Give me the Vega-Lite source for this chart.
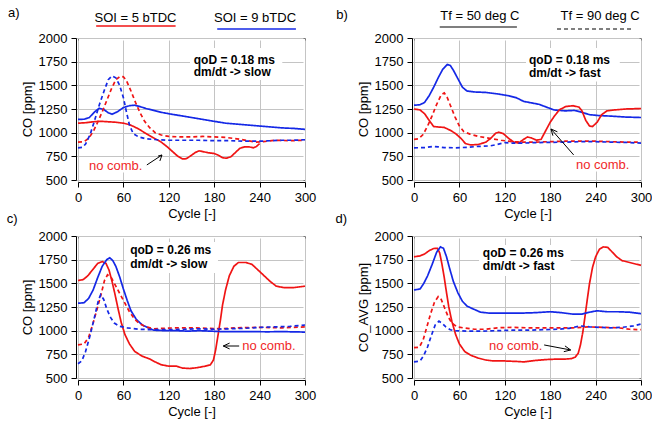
{
  "$schema": "https://vega.github.io/schema/vega-lite/v6.json",
  "padding": {"left": 6, "top": 6, "right": 5, "bottom": 5},
  "background": "white",
  "config": {
    "font": "Liberation Sans",
    "view": {"stroke": "#7a7a7a", "strokeWidth": 1},
    "axis": {"domainColor": "black", "tickColor": "black", "gridColor": "#c4c4c4", "labelFont": "Liberation Sans", "labelFontSize": 13, "labelColor": "black", "titleFont": "Liberation Sans", "titleFontSize": 13, "titleFontWeight": "normal", "titleColor": "black", "labelFlush": false, "tickSize": 5, "grid": true, "format": "d"},
    "axisX": {"offset": 2, "labelPadding": 4, "titlePadding": 3},
    "axisY": {"offset": 2, "labelPadding": 4, "titlePadding": 4},
    "text": {"font": "Liberation Sans"}
  },
  "datasets": {
    "a": [
      {"c":0,"v":1100,"s":"5","t":"50"},{"c":10,"v":1105,"s":"5","t":"50"},{"c":20,"v":1115,"s":"5","t":"50"},{"c":30,"v":1120,"s":"5","t":"50"},{"c":40,"v":1115,"s":"5","t":"50"},{"c":50,"v":1110,"s":"5","t":"50"},{"c":60,"v":1100,"s":"5","t":"50"},{"c":68,"v":1085,"s":"5","t":"50"},{"c":75,"v":1060,"s":"5","t":"50"},{"c":82,"v":1030,"s":"5","t":"50"},{"c":90,"v":990,"s":"5","t":"50"},{"c":100,"v":945,"s":"5","t":"50"},{"c":110,"v":900,"s":"5","t":"50"},{"c":118,"v":850,"s":"5","t":"50"},{"c":125,"v":800,"s":"5","t":"50"},{"c":132,"v":750,"s":"5","t":"50"},{"c":138,"v":722,"s":"5","t":"50"},{"c":143,"v":725,"s":"5","t":"50"},{"c":148,"v":750,"s":"5","t":"50"},{"c":155,"v":790,"s":"5","t":"50"},{"c":160,"v":808,"s":"5","t":"50"},{"c":165,"v":800,"s":"5","t":"50"},{"c":172,"v":788,"s":"5","t":"50"},{"c":180,"v":780,"s":"5","t":"50"},{"c":186,"v":760,"s":"5","t":"50"},{"c":191,"v":735,"s":"5","t":"50"},{"c":196,"v":730,"s":"5","t":"50"},{"c":202,"v":745,"s":"5","t":"50"},{"c":208,"v":790,"s":"5","t":"50"},{"c":214,"v":835,"s":"5","t":"50"},{"c":220,"v":850,"s":"5","t":"50"},{"c":226,"v":850,"s":"5","t":"50"},{"c":232,"v":840,"s":"5","t":"50"},{"c":236,"v":855,"s":"5","t":"50"},{"c":240,"v":885,"s":"5","t":"50"},
      {"c":0,"v":1140,"s":"9","t":"50"},{"c":8,"v":1142,"s":"9","t":"50"},{"c":15,"v":1160,"s":"9","t":"50"},{"c":22,"v":1220,"s":"9","t":"50"},{"c":28,"v":1258,"s":"9","t":"50"},{"c":34,"v":1245,"s":"9","t":"50"},{"c":40,"v":1210,"s":"9","t":"50"},{"c":45,"v":1195,"s":"9","t":"50"},{"c":52,"v":1220,"s":"9","t":"50"},{"c":60,"v":1265,"s":"9","t":"50"},{"c":68,"v":1285,"s":"9","t":"50"},{"c":75,"v":1290,"s":"9","t":"50"},{"c":82,"v":1275,"s":"9","t":"50"},{"c":90,"v":1255,"s":"9","t":"50"},{"c":100,"v":1235,"s":"9","t":"50"},{"c":110,"v":1215,"s":"9","t":"50"},{"c":120,"v":1200,"s":"9","t":"50"},{"c":135,"v":1180,"s":"9","t":"50"},{"c":150,"v":1160,"s":"9","t":"50"},{"c":165,"v":1140,"s":"9","t":"50"},{"c":180,"v":1120,"s":"9","t":"50"},{"c":195,"v":1100,"s":"9","t":"50"},{"c":210,"v":1090,"s":"9","t":"50"},{"c":225,"v":1080,"s":"9","t":"50"},{"c":240,"v":1070,"s":"9","t":"50"},{"c":255,"v":1060,"s":"9","t":"50"},{"c":270,"v":1050,"s":"9","t":"50"},{"c":285,"v":1045,"s":"9","t":"50"},{"c":300,"v":1035,"s":"9","t":"50"},
      {"c":0,"v":900,"s":"5","t":"90"},{"c":8,"v":905,"s":"5","t":"90"},{"c":14,"v":940,"s":"5","t":"90"},{"c":20,"v":1010,"s":"5","t":"90"},{"c":26,"v":1110,"s":"5","t":"90"},{"c":32,"v":1220,"s":"5","t":"90"},{"c":38,"v":1340,"s":"5","t":"90"},{"c":44,"v":1460,"s":"5","t":"90"},{"c":50,"v":1560,"s":"5","t":"90"},{"c":56,"v":1595,"s":"5","t":"90"},{"c":60,"v":1590,"s":"5","t":"90"},{"c":64,"v":1550,"s":"5","t":"90"},{"c":70,"v":1440,"s":"5","t":"90"},{"c":76,"v":1320,"s":"5","t":"90"},{"c":82,"v":1210,"s":"5","t":"90"},{"c":88,"v":1120,"s":"5","t":"90"},{"c":95,"v":1050,"s":"5","t":"90"},{"c":102,"v":1000,"s":"5","t":"90"},{"c":110,"v":975,"s":"5","t":"90"},{"c":120,"v":960,"s":"5","t":"90"},{"c":135,"v":955,"s":"5","t":"90"},{"c":150,"v":955,"s":"5","t":"90"},{"c":165,"v":960,"s":"5","t":"90"},{"c":180,"v":955,"s":"5","t":"90"},{"c":195,"v":950,"s":"5","t":"90"},{"c":210,"v":935,"s":"5","t":"90"},{"c":225,"v":915,"s":"5","t":"90"},{"c":235,"v":900,"s":"5","t":"90"},{"c":245,"v":905,"s":"5","t":"90"},{"c":260,"v":920,"s":"5","t":"90"},{"c":280,"v":915,"s":"5","t":"90"},{"c":300,"v":920,"s":"5","t":"90"},
      {"c":0,"v":840,"s":"9","t":"90"},{"c":6,"v":845,"s":"9","t":"90"},{"c":10,"v":880,"s":"9","t":"90"},{"c":16,"v":980,"s":"9","t":"90"},{"c":22,"v":1130,"s":"9","t":"90"},{"c":28,"v":1290,"s":"9","t":"90"},{"c":34,"v":1430,"s":"9","t":"90"},{"c":40,"v":1560,"s":"9","t":"90"},{"c":45,"v":1600,"s":"9","t":"90"},{"c":50,"v":1580,"s":"9","t":"90"},{"c":55,"v":1500,"s":"9","t":"90"},{"c":60,"v":1370,"s":"9","t":"90"},{"c":64,"v":1220,"s":"9","t":"90"},{"c":68,"v":1080,"s":"9","t":"90"},{"c":73,"v":990,"s":"9","t":"90"},{"c":80,"v":955,"s":"9","t":"90"},{"c":90,"v":935,"s":"9","t":"90"},{"c":105,"v":925,"s":"9","t":"90"},{"c":120,"v":920,"s":"9","t":"90"},{"c":140,"v":920,"s":"9","t":"90"},{"c":160,"v":920,"s":"9","t":"90"},{"c":180,"v":915,"s":"9","t":"90"},{"c":200,"v":915,"s":"9","t":"90"},{"c":220,"v":910,"s":"9","t":"90"},{"c":240,"v":910,"s":"9","t":"90"},{"c":255,"v":915,"s":"9","t":"90"},{"c":270,"v":920,"s":"9","t":"90"},{"c":285,"v":920,"s":"9","t":"90"},{"c":300,"v":925,"s":"9","t":"90"}
    ],
    "b": [
      {"c":0,"v":1290,"s":"9","t":"50"},{"c":8,"v":1295,"s":"9","t":"50"},{"c":14,"v":1320,"s":"9","t":"50"},{"c":20,"v":1390,"s":"9","t":"50"},{"c":26,"v":1480,"s":"9","t":"50"},{"c":32,"v":1580,"s":"9","t":"50"},{"c":38,"v":1670,"s":"9","t":"50"},{"c":44,"v":1720,"s":"9","t":"50"},{"c":48,"v":1710,"s":"9","t":"50"},{"c":52,"v":1660,"s":"9","t":"50"},{"c":58,"v":1570,"s":"9","t":"50"},{"c":64,"v":1480,"s":"9","t":"50"},{"c":70,"v":1440,"s":"9","t":"50"},{"c":80,"v":1430,"s":"9","t":"50"},{"c":95,"v":1425,"s":"9","t":"50"},{"c":110,"v":1410,"s":"9","t":"50"},{"c":125,"v":1390,"s":"9","t":"50"},{"c":135,"v":1370,"s":"9","t":"50"},{"c":145,"v":1330,"s":"9","t":"50"},{"c":155,"v":1315,"s":"9","t":"50"},{"c":165,"v":1300,"s":"9","t":"50"},{"c":175,"v":1270,"s":"9","t":"50"},{"c":185,"v":1240,"s":"9","t":"50"},{"c":200,"v":1230,"s":"9","t":"50"},{"c":212,"v":1235,"s":"9","t":"50"},{"c":222,"v":1215,"s":"9","t":"50"},{"c":232,"v":1190,"s":"9","t":"50"},{"c":245,"v":1180,"s":"9","t":"50"},{"c":260,"v":1175,"s":"9","t":"50"},{"c":280,"v":1165,"s":"9","t":"50"},{"c":300,"v":1160,"s":"9","t":"50"},
      {"c":0,"v":1250,"s":"5","t":"50"},{"c":8,"v":1240,"s":"5","t":"50"},{"c":14,"v":1200,"s":"5","t":"50"},{"c":20,"v":1130,"s":"5","t":"50"},{"c":26,"v":1065,"s":"5","t":"50"},{"c":32,"v":1060,"s":"5","t":"50"},{"c":40,"v":1055,"s":"5","t":"50"},{"c":48,"v":1025,"s":"5","t":"50"},{"c":55,"v":990,"s":"5","t":"50"},{"c":62,"v":940,"s":"5","t":"50"},{"c":68,"v":885,"s":"5","t":"50"},{"c":75,"v":870,"s":"5","t":"50"},{"c":85,"v":875,"s":"5","t":"50"},{"c":95,"v":900,"s":"5","t":"50"},{"c":102,"v":945,"s":"5","t":"50"},{"c":108,"v":995,"s":"5","t":"50"},{"c":112,"v":1005,"s":"5","t":"50"},{"c":118,"v":990,"s":"5","t":"50"},{"c":125,"v":940,"s":"5","t":"50"},{"c":132,"v":900,"s":"5","t":"50"},{"c":138,"v":890,"s":"5","t":"50"},{"c":145,"v":930,"s":"5","t":"50"},{"c":150,"v":955,"s":"5","t":"50"},{"c":155,"v":945,"s":"5","t":"50"},{"c":162,"v":920,"s":"5","t":"50"},{"c":168,"v":930,"s":"5","t":"50"},{"c":174,"v":1020,"s":"5","t":"50"},{"c":180,"v":1110,"s":"5","t":"50"},{"c":186,"v":1180,"s":"5","t":"50"},{"c":192,"v":1240,"s":"5","t":"50"},{"c":200,"v":1275,"s":"5","t":"50"},{"c":210,"v":1285,"s":"5","t":"50"},{"c":218,"v":1270,"s":"5","t":"50"},{"c":222,"v":1230,"s":"5","t":"50"},{"c":227,"v":1130,"s":"5","t":"50"},{"c":232,"v":1070,"s":"5","t":"50"},{"c":236,"v":1065,"s":"5","t":"50"},{"c":242,"v":1110,"s":"5","t":"50"},{"c":248,"v":1190,"s":"5","t":"50"},{"c":255,"v":1230,"s":"5","t":"50"},{"c":265,"v":1240,"s":"5","t":"50"},{"c":280,"v":1250,"s":"5","t":"50"},{"c":300,"v":1255,"s":"5","t":"50"},
      {"c":0,"v":930,"s":"5","t":"90"},{"c":6,"v":935,"s":"5","t":"90"},{"c":12,"v":980,"s":"5","t":"90"},{"c":18,"v":1070,"s":"5","t":"90"},{"c":24,"v":1180,"s":"5","t":"90"},{"c":30,"v":1300,"s":"5","t":"90"},{"c":36,"v":1400,"s":"5","t":"90"},{"c":40,"v":1420,"s":"5","t":"90"},{"c":44,"v":1370,"s":"5","t":"90"},{"c":48,"v":1290,"s":"5","t":"90"},{"c":54,"v":1170,"s":"5","t":"90"},{"c":60,"v":1070,"s":"5","t":"90"},{"c":66,"v":1010,"s":"5","t":"90"},{"c":74,"v":985,"s":"5","t":"90"},{"c":85,"v":960,"s":"5","t":"90"},{"c":100,"v":940,"s":"5","t":"90"},{"c":115,"v":920,"s":"5","t":"90"},{"c":130,"v":905,"s":"5","t":"90"},{"c":145,"v":900,"s":"5","t":"90"},{"c":160,"v":900,"s":"5","t":"90"},{"c":180,"v":905,"s":"5","t":"90"},{"c":200,"v":910,"s":"5","t":"90"},{"c":220,"v":910,"s":"5","t":"90"},{"c":240,"v":910,"s":"5","t":"90"},{"c":260,"v":905,"s":"5","t":"90"},{"c":280,"v":900,"s":"5","t":"90"},{"c":300,"v":900,"s":"5","t":"90"},
      {"c":0,"v":840,"s":"9","t":"90"},{"c":15,"v":842,"s":"9","t":"90"},{"c":25,"v":855,"s":"9","t":"90"},{"c":32,"v":850,"s":"9","t":"90"},{"c":40,"v":842,"s":"9","t":"90"},{"c":55,"v":840,"s":"9","t":"90"},{"c":70,"v":845,"s":"9","t":"90"},{"c":85,"v":855,"s":"9","t":"90"},{"c":100,"v":860,"s":"9","t":"90"},{"c":110,"v":875,"s":"9","t":"90"},{"c":120,"v":895,"s":"9","t":"90"},{"c":130,"v":890,"s":"9","t":"90"},{"c":145,"v":890,"s":"9","t":"90"},{"c":160,"v":895,"s":"9","t":"90"},{"c":180,"v":898,"s":"9","t":"90"},{"c":200,"v":900,"s":"9","t":"90"},{"c":220,"v":905,"s":"9","t":"90"},{"c":240,"v":905,"s":"9","t":"90"},{"c":260,"v":900,"s":"9","t":"90"},{"c":280,"v":897,"s":"9","t":"90"},{"c":300,"v":890,"s":"9","t":"90"}
    ],
    "c": [
      {"c":0,"v":1530,"s":"5","t":"50"},{"c":7,"v":1540,"s":"5","t":"50"},{"c":13,"v":1580,"s":"5","t":"50"},{"c":20,"v":1650,"s":"5","t":"50"},{"c":26,"v":1710,"s":"5","t":"50"},{"c":32,"v":1730,"s":"5","t":"50"},{"c":37,"v":1710,"s":"5","t":"50"},{"c":41,"v":1640,"s":"5","t":"50"},{"c":45,"v":1520,"s":"5","t":"50"},{"c":49,"v":1380,"s":"5","t":"50"},{"c":53,"v":1230,"s":"5","t":"50"},{"c":57,"v":1090,"s":"5","t":"50"},{"c":62,"v":960,"s":"5","t":"50"},{"c":68,"v":860,"s":"5","t":"50"},{"c":75,"v":780,"s":"5","t":"50"},{"c":85,"v":730,"s":"5","t":"50"},{"c":95,"v":700,"s":"5","t":"50"},{"c":102,"v":670,"s":"5","t":"50"},{"c":110,"v":640,"s":"5","t":"50"},{"c":120,"v":625,"s":"5","t":"50"},{"c":130,"v":625,"s":"5","t":"50"},{"c":138,"v":605,"s":"5","t":"50"},{"c":148,"v":600,"s":"5","t":"50"},{"c":158,"v":610,"s":"5","t":"50"},{"c":168,"v":625,"s":"5","t":"50"},{"c":175,"v":640,"s":"5","t":"50"},{"c":179,"v":690,"s":"5","t":"50"},{"c":182,"v":800,"s":"5","t":"50"},{"c":185,"v":950,"s":"5","t":"50"},{"c":188,"v":1100,"s":"5","t":"50"},{"c":191,"v":1270,"s":"5","t":"50"},{"c":195,"v":1430,"s":"5","t":"50"},{"c":200,"v":1580,"s":"5","t":"50"},{"c":206,"v":1680,"s":"5","t":"50"},{"c":212,"v":1720,"s":"5","t":"50"},{"c":222,"v":1720,"s":"5","t":"50"},{"c":230,"v":1700,"s":"5","t":"50"},{"c":238,"v":1640,"s":"5","t":"50"},{"c":246,"v":1580,"s":"5","t":"50"},{"c":254,"v":1520,"s":"5","t":"50"},{"c":262,"v":1470,"s":"5","t":"50"},{"c":272,"v":1455,"s":"5","t":"50"},{"c":285,"v":1455,"s":"5","t":"50"},{"c":300,"v":1470,"s":"5","t":"50"},
      {"c":0,"v":1290,"s":"9","t":"50"},{"c":8,"v":1295,"s":"9","t":"50"},{"c":14,"v":1340,"s":"9","t":"50"},{"c":20,"v":1430,"s":"9","t":"50"},{"c":26,"v":1560,"s":"9","t":"50"},{"c":32,"v":1680,"s":"9","t":"50"},{"c":38,"v":1750,"s":"9","t":"50"},{"c":42,"v":1770,"s":"9","t":"50"},{"c":46,"v":1740,"s":"9","t":"50"},{"c":50,"v":1680,"s":"9","t":"50"},{"c":55,"v":1570,"s":"9","t":"50"},{"c":60,"v":1440,"s":"9","t":"50"},{"c":65,"v":1320,"s":"9","t":"50"},{"c":70,"v":1210,"s":"9","t":"50"},{"c":77,"v":1120,"s":"9","t":"50"},{"c":85,"v":1060,"s":"9","t":"50"},{"c":93,"v":1030,"s":"9","t":"50"},{"c":100,"v":1005,"s":"9","t":"50"},{"c":115,"v":1000,"s":"9","t":"50"},{"c":130,"v":1000,"s":"9","t":"50"},{"c":145,"v":995,"s":"9","t":"50"},{"c":160,"v":1000,"s":"9","t":"50"},{"c":175,"v":995,"s":"9","t":"50"},{"c":190,"v":990,"s":"9","t":"50"},{"c":210,"v":990,"s":"9","t":"50"},{"c":230,"v":990,"s":"9","t":"50"},{"c":250,"v":988,"s":"9","t":"50"},{"c":270,"v":990,"s":"9","t":"50"},{"c":300,"v":985,"s":"9","t":"50"},
      {"c":0,"v":850,"s":"5","t":"90"},{"c":8,"v":860,"s":"5","t":"90"},{"c":14,"v":930,"s":"5","t":"90"},{"c":20,"v":1080,"s":"5","t":"90"},{"c":26,"v":1250,"s":"5","t":"90"},{"c":31,"v":1400,"s":"5","t":"90"},{"c":35,"v":1530,"s":"5","t":"90"},{"c":39,"v":1590,"s":"5","t":"90"},{"c":44,"v":1560,"s":"5","t":"90"},{"c":50,"v":1470,"s":"5","t":"90"},{"c":56,"v":1380,"s":"5","t":"90"},{"c":62,"v":1290,"s":"5","t":"90"},{"c":68,"v":1200,"s":"5","t":"90"},{"c":75,"v":1120,"s":"5","t":"90"},{"c":82,"v":1070,"s":"5","t":"90"},{"c":90,"v":1040,"s":"5","t":"90"},{"c":100,"v":1020,"s":"5","t":"90"},{"c":115,"v":1025,"s":"5","t":"90"},{"c":130,"v":1030,"s":"5","t":"90"},{"c":150,"v":1030,"s":"5","t":"90"},{"c":170,"v":1025,"s":"5","t":"90"},{"c":190,"v":1020,"s":"5","t":"90"},{"c":210,"v":1030,"s":"5","t":"90"},{"c":240,"v":1035,"s":"5","t":"90"},{"c":270,"v":1030,"s":"5","t":"90"},{"c":300,"v":1040,"s":"5","t":"90"},
      {"c":0,"v":650,"s":"9","t":"90"},{"c":5,"v":680,"s":"9","t":"90"},{"c":10,"v":780,"s":"9","t":"90"},{"c":16,"v":950,"s":"9","t":"90"},{"c":22,"v":1150,"s":"9","t":"90"},{"c":27,"v":1320,"s":"9","t":"90"},{"c":30,"v":1380,"s":"9","t":"90"},{"c":34,"v":1330,"s":"9","t":"90"},{"c":38,"v":1230,"s":"9","t":"90"},{"c":43,"v":1140,"s":"9","t":"90"},{"c":48,"v":1080,"s":"9","t":"90"},{"c":55,"v":1045,"s":"9","t":"90"},{"c":65,"v":1030,"s":"9","t":"90"},{"c":80,"v":1015,"s":"9","t":"90"},{"c":100,"v":1010,"s":"9","t":"90"},{"c":120,"v":1010,"s":"9","t":"90"},{"c":140,"v":1015,"s":"9","t":"90"},{"c":160,"v":1020,"s":"9","t":"90"},{"c":180,"v":1015,"s":"9","t":"90"},{"c":200,"v":1020,"s":"9","t":"90"},{"c":220,"v":1025,"s":"9","t":"90"},{"c":240,"v":1035,"s":"9","t":"90"},{"c":260,"v":1040,"s":"9","t":"90"},{"c":280,"v":1045,"s":"9","t":"90"},{"c":300,"v":1060,"s":"9","t":"90"}
    ],
    "d": [
      {"c":0,"v":1780,"s":"5","t":"50"},{"c":8,"v":1790,"s":"5","t":"50"},{"c":14,"v":1810,"s":"5","t":"50"},{"c":20,"v":1845,"s":"5","t":"50"},{"c":26,"v":1868,"s":"5","t":"50"},{"c":31,"v":1870,"s":"5","t":"50"},{"c":34,"v":1820,"s":"5","t":"50"},{"c":37,"v":1700,"s":"5","t":"50"},{"c":40,"v":1560,"s":"5","t":"50"},{"c":43,"v":1400,"s":"5","t":"50"},{"c":46,"v":1250,"s":"5","t":"50"},{"c":50,"v":1100,"s":"5","t":"50"},{"c":55,"v":960,"s":"5","t":"50"},{"c":60,"v":860,"s":"5","t":"50"},{"c":67,"v":780,"s":"5","t":"50"},{"c":75,"v":740,"s":"5","t":"50"},{"c":85,"v":710,"s":"5","t":"50"},{"c":95,"v":690,"s":"5","t":"50"},{"c":105,"v":680,"s":"5","t":"50"},{"c":120,"v":680,"s":"5","t":"50"},{"c":135,"v":675,"s":"5","t":"50"},{"c":145,"v":670,"s":"5","t":"50"},{"c":160,"v":685,"s":"5","t":"50"},{"c":175,"v":695,"s":"5","t":"50"},{"c":190,"v":700,"s":"5","t":"50"},{"c":200,"v":700,"s":"5","t":"50"},{"c":208,"v":705,"s":"5","t":"50"},{"c":213,"v":720,"s":"5","t":"50"},{"c":217,"v":760,"s":"5","t":"50"},{"c":220,"v":850,"s":"5","t":"50"},{"c":223,"v":980,"s":"5","t":"50"},{"c":226,"v":1150,"s":"5","t":"50"},{"c":229,"v":1330,"s":"5","t":"50"},{"c":232,"v":1500,"s":"5","t":"50"},{"c":236,"v":1670,"s":"5","t":"50"},{"c":240,"v":1780,"s":"5","t":"50"},{"c":245,"v":1860,"s":"5","t":"50"},{"c":250,"v":1885,"s":"5","t":"50"},{"c":256,"v":1880,"s":"5","t":"50"},{"c":262,"v":1830,"s":"5","t":"50"},{"c":268,"v":1780,"s":"5","t":"50"},{"c":275,"v":1740,"s":"5","t":"50"},{"c":285,"v":1720,"s":"5","t":"50"},{"c":300,"v":1690,"s":"5","t":"50"},
      {"c":0,"v":1430,"s":"9","t":"50"},{"c":8,"v":1440,"s":"9","t":"50"},{"c":13,"v":1500,"s":"9","t":"50"},{"c":18,"v":1580,"s":"9","t":"50"},{"c":24,"v":1700,"s":"9","t":"50"},{"c":30,"v":1830,"s":"9","t":"50"},{"c":35,"v":1885,"s":"9","t":"50"},{"c":39,"v":1870,"s":"9","t":"50"},{"c":43,"v":1780,"s":"9","t":"50"},{"c":47,"v":1660,"s":"9","t":"50"},{"c":52,"v":1520,"s":"9","t":"50"},{"c":58,"v":1400,"s":"9","t":"50"},{"c":64,"v":1310,"s":"9","t":"50"},{"c":70,"v":1260,"s":"9","t":"50"},{"c":78,"v":1230,"s":"9","t":"50"},{"c":88,"v":1195,"s":"9","t":"50"},{"c":100,"v":1185,"s":"9","t":"50"},{"c":120,"v":1185,"s":"9","t":"50"},{"c":140,"v":1185,"s":"9","t":"50"},{"c":160,"v":1190,"s":"9","t":"50"},{"c":180,"v":1200,"s":"9","t":"50"},{"c":195,"v":1190,"s":"9","t":"50"},{"c":210,"v":1175,"s":"9","t":"50"},{"c":222,"v":1175,"s":"9","t":"50"},{"c":232,"v":1195,"s":"9","t":"50"},{"c":242,"v":1210,"s":"9","t":"50"},{"c":255,"v":1200,"s":"9","t":"50"},{"c":270,"v":1200,"s":"9","t":"50"},{"c":285,"v":1195,"s":"9","t":"50"},{"c":300,"v":1180,"s":"9","t":"50"},
      {"c":0,"v":820,"s":"5","t":"90"},{"c":7,"v":825,"s":"5","t":"90"},{"c":12,"v":900,"s":"5","t":"90"},{"c":17,"v":1040,"s":"5","t":"90"},{"c":22,"v":1180,"s":"5","t":"90"},{"c":27,"v":1300,"s":"5","t":"90"},{"c":32,"v":1360,"s":"5","t":"90"},{"c":36,"v":1330,"s":"5","t":"90"},{"c":40,"v":1250,"s":"5","t":"90"},{"c":45,"v":1150,"s":"5","t":"90"},{"c":50,"v":1080,"s":"5","t":"90"},{"c":57,"v":1040,"s":"5","t":"90"},{"c":65,"v":1030,"s":"5","t":"90"},{"c":80,"v":1015,"s":"5","t":"90"},{"c":95,"v":1015,"s":"5","t":"90"},{"c":110,"v":1030,"s":"5","t":"90"},{"c":130,"v":1035,"s":"5","t":"90"},{"c":150,"v":1030,"s":"5","t":"90"},{"c":170,"v":1030,"s":"5","t":"90"},{"c":190,"v":1030,"s":"5","t":"90"},{"c":210,"v":1030,"s":"5","t":"90"},{"c":230,"v":1040,"s":"5","t":"90"},{"c":250,"v":1035,"s":"5","t":"90"},{"c":270,"v":1030,"s":"5","t":"90"},{"c":285,"v":1015,"s":"5","t":"90"},{"c":300,"v":1010,"s":"5","t":"90"},
      {"c":0,"v":670,"s":"9","t":"90"},{"c":8,"v":680,"s":"9","t":"90"},{"c":13,"v":740,"s":"9","t":"90"},{"c":18,"v":830,"s":"9","t":"90"},{"c":23,"v":950,"s":"9","t":"90"},{"c":28,"v":1060,"s":"9","t":"90"},{"c":33,"v":1100,"s":"9","t":"90"},{"c":37,"v":1080,"s":"9","t":"90"},{"c":42,"v":1040,"s":"9","t":"90"},{"c":48,"v":1010,"s":"9","t":"90"},{"c":55,"v":1000,"s":"9","t":"90"},{"c":70,"v":995,"s":"9","t":"90"},{"c":90,"v":995,"s":"9","t":"90"},{"c":110,"v":1000,"s":"9","t":"90"},{"c":130,"v":1005,"s":"9","t":"90"},{"c":150,"v":1005,"s":"9","t":"90"},{"c":170,"v":1010,"s":"9","t":"90"},{"c":190,"v":1015,"s":"9","t":"90"},{"c":205,"v":1025,"s":"9","t":"90"},{"c":220,"v":1050,"s":"9","t":"90"},{"c":232,"v":1040,"s":"9","t":"90"},{"c":245,"v":1035,"s":"9","t":"90"},{"c":260,"v":1030,"s":"9","t":"90"},{"c":275,"v":1035,"s":"9","t":"90"},{"c":290,"v":1050,"s":"9","t":"90"},{"c":300,"v":1070,"s":"9","t":"90"}
    ],
    "box": [
      {"p":"a","c":148,"c2":270,"v":1894,"v2":1556},{"p":"a","c":12,"c2":86,"v":580,"v2":720},
      {"p":"b","c":148,"c2":272,"v":1894,"v2":1540},{"p":"b","c":211,"c2":285,"v":590,"v2":730},
      {"p":"c","c":63,"c2":185,"v":1937,"v2":1609},{"p":"c","c":215,"c2":287,"v":770,"v2":905},
      {"p":"d","c":86,"c2":207,"v":1905,"v2":1578},{"p":"d","c":97,"c2":167,"v":770,"v2":905}
    ],
    "arr": [
      {"p":"a","c":91,"v":659,"c2":111,"v2":764},{"p":"a","c":111,"v":764,"c2":105.8,"v2":753},{"p":"a","c":111,"v":764,"c2":108.2,"v2":701},
      {"p":"b","c":211,"v":765,"c2":181,"v2":1039},{"p":"b","c":181,"v":1039,"c2":189.5,"v2":1009},{"p":"b","c":181,"v":1039,"c2":183.6,"v2":968},
      {"p":"c","c":213,"v":838,"c2":192,"v2":838},{"p":"c","c":192,"v":838,"c2":200.4,"v2":869},{"p":"c","c":192,"v":838,"c2":200.4,"v2":807},
      {"p":"d","c":172,"v":849,"c2":207,"v2":796},{"p":"d","c":207,"v":796,"c2":199.5,"v2":839},{"p":"d","c":207,"v":796,"c2":198,"v2":778}
    ],
    "note": [
      {"p":"a","c":153,"v":1772,"text":"qoD = 0.18 ms"},{"p":"a","c":153,"v":1646,"text":"dm/dt -> slow"},
      {"p":"b","c":152,"v":1772,"text":"qoD = 0.18 ms"},{"p":"b","c":152,"v":1630,"text":"dm/dt -> fast"},
      {"p":"c","c":69,"v":1852,"text":"qoD = 0.26 ms"},{"p":"c","c":69,"v":1704,"text":"dm/dt -> slow"},
      {"p":"d","c":91,"v":1820,"text":"qoD = 0.26 ms"},{"p":"d","c":91,"v":1683,"text":"dm/dt -> fast"}
    ],
    "nc": [
      {"p":"a","c":14.5,"v":648,"text":"no comb."},
      {"p":"b","c":214,"v":659,"text":"no comb."},
      {"p":"c","c":217,"v":838,"text":"no comb."},
      {"p":"d","c":99,"v":838,"text":"no comb."}
    ],
    "lbl": [
      {"p":"a","c":76,"v":2211,"text":"SOI = 5 bTDC"},{"p":"a","c":234,"v":2211,"text":"SOI = 9 bTDC"},{"p":"a","c":-85,"v":2264,"text":"a)"},
      {"p":"b","c":87,"v":2232,"text":"Tf = 50 deg C"},{"p":"b","c":246,"v":2232,"text":"Tf = 90 deg C"},{"p":"b","c":-95,"v":2243,"text":"b)"},
      {"p":"c","c":-87,"v":2180,"text":"c)"},
      {"p":"d","c":-96,"v":2180,"text":"d)"}
    ],
    "legs": [
      {"p":"a","c":24,"c2":129,"v":2127,"s":"5"},{"p":"a","c":184,"c2":288,"v":2095,"s":"9"}
    ],
    "legt": [
      {"p":"b","c":34,"c2":136,"v":2116,"t":"50"},{"p":"b","c":189,"c2":289,"v":2095,"t":"90"}
    ]
  },
  "columns": 2,
  "spacing": {"row": 56, "column": 109},
  "bounds": "flush",
  "concat": [
    {
      "width": 227, "height": 142,
      "encoding": {
        "x": {"field": "c", "type": "quantitative", "scale": {"domain": [0, 300], "nice": false, "zero": false}, "axis": {"values": [0, 60, 120, 180, 240, 300], "title": "Cycle [-]"}},
        "y": {"field": "v", "type": "quantitative", "scale": {"domain": [500, 2000], "nice": false, "zero": false}, "axis": {"values": [500, 750, 1000, 1250, 1500, 1750, 2000], "title": "CO [ppm]"}}
      },
      "layer": [
        {"data": {"name": "box"}, "transform": [{"filter": "datum.p == 'a'"}], "mark": {"type": "rect", "color": "white"}, "encoding": {"x2": {"field": "c2"}, "y2": {"field": "v2"}}},
        {"data": {"name": "a"}, "mark": {"type": "line", "strokeWidth": 1.7}, "encoding": {"color": {"field": "s", "type": "nominal", "scale": {"domain": ["5", "9"], "range": ["#f01414", "#1428e6"]}, "legend": null}, "strokeDash": {"field": "t", "type": "nominal", "scale": {"domain": ["50", "90"], "range": [[1, 0], [4, 3]]}, "legend": null}}},
        {"data": {"name": "legs"}, "transform": [{"filter": "datum.p == 'a'"}], "mark": {"type": "rule", "strokeWidth": 1.6}, "encoding": {"x2": {"field": "c2"}, "color": {"field": "s", "type": "nominal", "scale": {"domain": ["5", "9"], "range": ["#f01414", "#1428e6"]}, "legend": null}}},
        {"data": {"name": "arr"}, "transform": [{"filter": "datum.p == 'a'"}], "mark": {"type": "rule", "color": "black", "strokeWidth": 1}, "encoding": {"x2": {"field": "c2"}, "y2": {"field": "v2"}}},
        {"data": {"name": "note"}, "transform": [{"filter": "datum.p == 'a'"}], "mark": {"type": "text", "align": "left", "baseline": "middle", "fontWeight": "bold", "fontSize": 12, "color": "black"}, "encoding": {"text": {"field": "text"}}},
        {"data": {"name": "nc"}, "transform": [{"filter": "datum.p == 'a'"}], "mark": {"type": "text", "align": "left", "baseline": "middle", "fontSize": 13, "color": "#f02828"}, "encoding": {"text": {"field": "text"}}},
        {"data": {"name": "lbl"}, "transform": [{"filter": "datum.p == 'a'"}], "mark": {"type": "text", "align": "center", "baseline": "middle", "fontSize": 13, "color": "black"}, "encoding": {"text": {"field": "text"}}}
      ]
    },
    {
      "width": 227, "height": 142,
      "encoding": {
        "x": {"field": "c", "type": "quantitative", "scale": {"domain": [0, 300], "nice": false, "zero": false}, "axis": {"values": [0, 60, 120, 180, 240, 300], "title": "Cycle [-]"}},
        "y": {"field": "v", "type": "quantitative", "scale": {"domain": [500, 2000], "nice": false, "zero": false}, "axis": {"values": [500, 750, 1000, 1250, 1500, 1750, 2000], "title": "CO [ppm]"}}
      },
      "layer": [
        {"data": {"name": "box"}, "transform": [{"filter": "datum.p == 'b'"}], "mark": {"type": "rect", "color": "white"}, "encoding": {"x2": {"field": "c2"}, "y2": {"field": "v2"}}},
        {"data": {"name": "b"}, "mark": {"type": "line", "strokeWidth": 1.7}, "encoding": {"color": {"field": "s", "type": "nominal", "scale": {"domain": ["5", "9"], "range": ["#f01414", "#1428e6"]}, "legend": null}, "strokeDash": {"field": "t", "type": "nominal", "scale": {"domain": ["50", "90"], "range": [[1, 0], [4, 3]]}, "legend": null}}},
        {"data": {"name": "legt"}, "transform": [{"filter": "datum.p == 'b'"}], "mark": {"type": "rule", "strokeWidth": 1.2, "color": "black"}, "encoding": {"x2": {"field": "c2"}, "strokeDash": {"field": "t", "type": "nominal", "scale": {"domain": ["50", "90"], "range": [[1, 0], [4, 3]]}, "legend": null}}},
        {"data": {"name": "arr"}, "transform": [{"filter": "datum.p == 'b'"}], "mark": {"type": "rule", "color": "black", "strokeWidth": 1}, "encoding": {"x2": {"field": "c2"}, "y2": {"field": "v2"}}},
        {"data": {"name": "note"}, "transform": [{"filter": "datum.p == 'b'"}], "mark": {"type": "text", "align": "left", "baseline": "middle", "fontWeight": "bold", "fontSize": 12, "color": "black"}, "encoding": {"text": {"field": "text"}}},
        {"data": {"name": "nc"}, "transform": [{"filter": "datum.p == 'b'"}], "mark": {"type": "text", "align": "left", "baseline": "middle", "fontSize": 13, "color": "#f02828"}, "encoding": {"text": {"field": "text"}}},
        {"data": {"name": "lbl"}, "transform": [{"filter": "datum.p == 'b'"}], "mark": {"type": "text", "align": "center", "baseline": "middle", "fontSize": 13, "color": "black"}, "encoding": {"text": {"field": "text"}}}
      ]
    },
    {
      "width": 227, "height": 142,
      "encoding": {
        "x": {"field": "c", "type": "quantitative", "scale": {"domain": [0, 300], "nice": false, "zero": false}, "axis": {"values": [0, 60, 120, 180, 240, 300], "title": "Cycle [-]"}},
        "y": {"field": "v", "type": "quantitative", "scale": {"domain": [500, 2000], "nice": false, "zero": false}, "axis": {"values": [500, 750, 1000, 1250, 1500, 1750, 2000], "title": "CO [ppm]"}}
      },
      "layer": [
        {"data": {"name": "box"}, "transform": [{"filter": "datum.p == 'c'"}], "mark": {"type": "rect", "color": "white"}, "encoding": {"x2": {"field": "c2"}, "y2": {"field": "v2"}}},
        {"data": {"name": "c"}, "mark": {"type": "line", "strokeWidth": 1.7}, "encoding": {"color": {"field": "s", "type": "nominal", "scale": {"domain": ["5", "9"], "range": ["#f01414", "#1428e6"]}, "legend": null}, "strokeDash": {"field": "t", "type": "nominal", "scale": {"domain": ["50", "90"], "range": [[1, 0], [4, 3]]}, "legend": null}}},
        {"data": {"name": "arr"}, "transform": [{"filter": "datum.p == 'c'"}], "mark": {"type": "rule", "color": "black", "strokeWidth": 1}, "encoding": {"x2": {"field": "c2"}, "y2": {"field": "v2"}}},
        {"data": {"name": "note"}, "transform": [{"filter": "datum.p == 'c'"}], "mark": {"type": "text", "align": "left", "baseline": "middle", "fontWeight": "bold", "fontSize": 12, "color": "black"}, "encoding": {"text": {"field": "text"}}},
        {"data": {"name": "nc"}, "transform": [{"filter": "datum.p == 'c'"}], "mark": {"type": "text", "align": "left", "baseline": "middle", "fontSize": 13, "color": "#f02828"}, "encoding": {"text": {"field": "text"}}},
        {"data": {"name": "lbl"}, "transform": [{"filter": "datum.p == 'c'"}], "mark": {"type": "text", "align": "center", "baseline": "middle", "fontSize": 13, "color": "black"}, "encoding": {"text": {"field": "text"}}}
      ]
    },
    {
      "width": 227, "height": 142,
      "encoding": {
        "x": {"field": "c", "type": "quantitative", "scale": {"domain": [0, 300], "nice": false, "zero": false}, "axis": {"values": [0, 60, 120, 180, 240, 300], "title": "Cycle [-]"}},
        "y": {"field": "v", "type": "quantitative", "scale": {"domain": [500, 2000], "nice": false, "zero": false}, "axis": {"values": [500, 750, 1000, 1250, 1500, 1750, 2000], "title": "CO_AVG [ppm]"}}
      },
      "layer": [
        {"data": {"name": "box"}, "transform": [{"filter": "datum.p == 'd'"}], "mark": {"type": "rect", "color": "white"}, "encoding": {"x2": {"field": "c2"}, "y2": {"field": "v2"}}},
        {"data": {"name": "d"}, "mark": {"type": "line", "strokeWidth": 1.7}, "encoding": {"color": {"field": "s", "type": "nominal", "scale": {"domain": ["5", "9"], "range": ["#f01414", "#1428e6"]}, "legend": null}, "strokeDash": {"field": "t", "type": "nominal", "scale": {"domain": ["50", "90"], "range": [[1, 0], [4, 3]]}, "legend": null}}},
        {"data": {"name": "arr"}, "transform": [{"filter": "datum.p == 'd'"}], "mark": {"type": "rule", "color": "black", "strokeWidth": 1}, "encoding": {"x2": {"field": "c2"}, "y2": {"field": "v2"}}},
        {"data": {"name": "note"}, "transform": [{"filter": "datum.p == 'd'"}], "mark": {"type": "text", "align": "left", "baseline": "middle", "fontWeight": "bold", "fontSize": 12, "color": "black"}, "encoding": {"text": {"field": "text"}}},
        {"data": {"name": "nc"}, "transform": [{"filter": "datum.p == 'd'"}], "mark": {"type": "text", "align": "left", "baseline": "middle", "fontSize": 13, "color": "#f02828"}, "encoding": {"text": {"field": "text"}}},
        {"data": {"name": "lbl"}, "transform": [{"filter": "datum.p == 'd'"}], "mark": {"type": "text", "align": "center", "baseline": "middle", "fontSize": 13, "color": "black"}, "encoding": {"text": {"field": "text"}}}
      ]
    }
  ]
}
